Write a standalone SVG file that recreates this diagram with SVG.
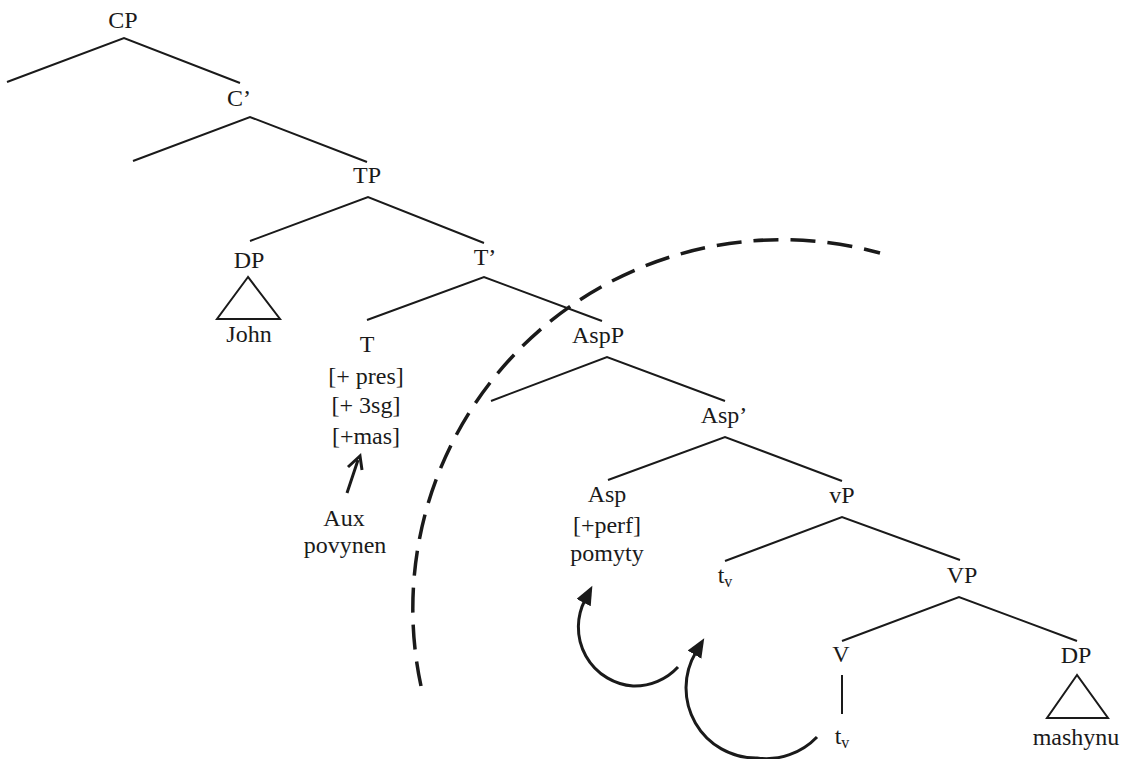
<svg xmlns="http://www.w3.org/2000/svg" width="1131" height="759" viewBox="0 0 1131 759">
<defs>
<style>
text{font-family:'Liberation Serif','Times New Roman','DejaVu Serif',serif;font-size:24px;fill:#1a1a1a;text-anchor:middle}
.sub{font-size:16px}
.br{stroke:#1a1a1a;stroke-width:2;fill:none;stroke-linecap:butt}
.tri{stroke:#1a1a1a;stroke-width:2;fill:none;stroke-linejoin:miter}
.mv{stroke:#1a1a1a;stroke-width:3;fill:none}
.dash{stroke:#1a1a1a;stroke-width:3.5;fill:none;stroke-dasharray:25 12}
</style>
<marker id="ah" markerUnits="userSpaceOnUse" markerWidth="20" markerHeight="18" refX="3" refY="8" orient="auto">
<path d="M0,0 L19,8 L0,16 Z" fill="#1a1a1a"/>
</marker>
</defs>
<rect width="1131" height="759" fill="#ffffff"/>
<g id="connectors">
<path class="br" d="M7,82 L124,38 L240,83"/>
<path class="br" d="M133,161 L250,117 L367,162"/>
<path class="br" d="M250,241 L368,197 L484,243"/>
<path class="br" d="M367,320 L484,277 L602,321"/>
<path class="br" d="M491,401 L607,357 L725,401"/>
<path class="br" d="M608,480 L725,437 L842,481"/>
<path class="br" d="M725,561 L842,517 L960,560"/>
<path class="br" d="M842,641 L959,597 L1077,641"/>
<path class="br" d="M842,675 L842,714"/>
<path class="mv" stroke-width="2.5" d="M347,493 L358,460"/>
<path class="mv" stroke-width="2.5" d="M348,467 L360,456 L362,470"/>
<path class="mv" d="M678,667 A59,59 0 0 1 633,686 A59,59 0 0 1 585,600" marker-end="url(#ah)"/>
<path class="mv" d="M817,737 A70,70 0 0 1 757,758 A70,70 0 0 1 696,652" marker-end="url(#ah)"/>
<path class="dash" d="M421,686 A369,369 0 0 1 880,253"/>
</g>
<g font-family="Liberation Serif, Times New Roman, serif">
<g id="CP"><text x="123" y="28">CP</text></g>
<g id="C1"><text x="239" y="106">C’</text></g>
<g id="TP"><text x="367" y="183">TP</text></g>
<g id="DP1"><text x="249" y="268">DP</text><polygon class="tri" points="248,277 217,319 280,319"/><text x="249" y="342">John</text></g>
<g id="T1"><text x="485" y="265">T’</text></g>
<g id="T"><text x="367" y="352">T</text><text x="366" y="384">[+ pres]</text><text x="366" y="413">[+ 3sg]</text><text x="366" y="444">[+mas]</text></g>
<g id="Aux"><text x="344" y="526">Aux</text><text x="345" y="553">povynen</text></g>
<g id="AspP"><text x="598" y="343">AspP</text></g>
<g id="Asp1"><text x="724" y="423">Asp’</text></g>
<g id="Asp"><text x="607" y="502">Asp</text><text x="607" y="533">[+perf]</text><text x="607" y="561">pomyty</text></g>
<g id="vP"><text x="842" y="503">vP</text></g>
<g id="tv1"><text x="725" y="583">t<tspan class="sub" dy="4">v</tspan></text></g>
<g id="VP"><text x="962" y="583">VP</text></g>
<g id="V"><text x="841" y="662">V</text></g>
<g id="tv2"><text x="842" y="744">t<tspan class="sub" dy="4">v</tspan></text></g>
<g id="DP2"><text x="1076" y="663">DP</text><polygon class="tri" points="1077,675 1047,718 1108,718"/><text x="1076" y="745">mashynu</text></g>
</g>
</svg>
